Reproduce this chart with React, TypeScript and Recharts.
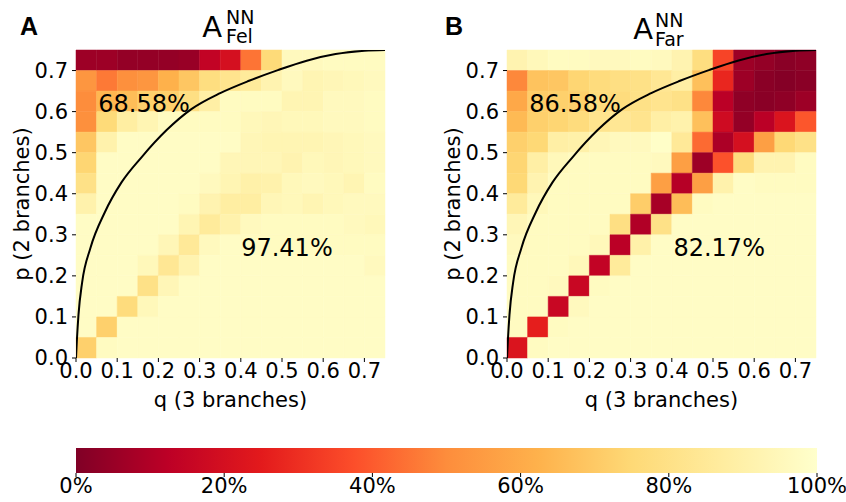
import { ComposedChart, XAxis, YAxis, Line, ReferenceArea, ReferenceDot } from 'recharts'

// cell edges on both axes (15 bins of 0.05)
const EDGES = [0, 0.05, 0.1, 0.15, 0.2, 0.25, 0.3, 0.35, 0.4, 0.45, 0.5, 0.55, 0.6, 0.65, 0.7, 0.75]
const TICKS = [0, 0.1, 0.2, 0.3, 0.4, 0.5, 0.6, 0.7]
const CB_TICKS = [0, 20, 40, 60, 80, 100]

// accuracy in %, rows listed from top (p = 0.70-0.75) down to p = 0.00-0.05
const FEL_ROWS = [
  [6, 6, 4, 4, 4, 5, 14, 20, 45, 76, 96, 96, 97, 97, 97],
  [53, 46, 51, 53, 62, 69, 78, 82, 86, 92, 96, 93, 94, 95, 96],
  [50, 64, 66, 72, 72, 79, 89, 97, 97, 97, 93, 93, 96, 96, 97],
  [51, 76, 88, 93, 97, 97, 97, 97, 95, 94, 95, 95, 96, 96, 97],
  [69, 91, 98, 98, 98, 98, 98, 98, 94, 93, 93, 93, 94, 95, 96],
  [74, 98, 98, 98, 98, 98, 98, 94, 94, 94, 92, 95, 94, 95, 96],
  [80, 98, 98, 98, 98, 98, 96, 93, 90, 91, 95, 96, 95, 93, 97],
  [91, 98, 98, 98, 98, 97, 92, 88, 88, 94, 95, 93, 95, 96, 96],
  [98, 98, 98, 98, 98, 93, 86, 91, 96, 97, 97, 97, 97, 96, 95],
  [98, 98, 98, 98, 94, 85, 96, 98, 97, 97, 97, 97, 97, 97, 97],
  [98, 98, 98, 95, 84, 92, 98, 98, 98, 98, 98, 98, 98, 98, 96],
  [98, 98, 98, 80, 94, 98, 98, 98, 98, 98, 98, 98, 98, 98, 98],
  [98, 98, 77, 95, 98, 98, 98, 98, 98, 98, 98, 98, 98, 98, 98],
  [98, 72, 98, 98, 98, 98, 98, 98, 98, 98, 98, 98, 98, 98, 98],
  [72, 97, 98, 98, 98, 98, 98, 98, 98, 98, 98, 98, 98, 98, 98],
]

const FAR_ROWS = [
  [92, 95, 97, 97, 96, 96, 97, 96, 92, 78, 35, 6, 4, 2, 3],
  [49, 68, 69, 74, 77, 79, 80, 84, 89, 67, 28, 6, 2, 1, 2],
  [59, 71, 72, 72, 77, 77, 80, 82, 80, 49, 12, 3, 2, 3, 6],
  [65, 72, 74, 77, 82, 84, 82, 89, 91, 67, 18, 4, 12, 22, 39],
  [72, 75, 89, 90, 94, 96, 96, 99, 85, 43, 9, 20, 56, 75, 80],
  [74, 89, 95, 97, 97, 97, 97, 96, 56, 6, 38, 77, 92, 92, 97],
  [75, 92, 97, 97, 97, 97, 97, 56, 11, 56, 91, 98, 97, 97, 97],
  [86, 95, 97, 97, 97, 97, 71, 8, 66, 97, 98, 98, 98, 98, 98],
  [94, 97, 97, 97, 97, 79, 10, 80, 98, 98, 98, 98, 98, 98, 98],
  [96, 97, 97, 97, 95, 12, 90, 98, 98, 98, 98, 98, 98, 98, 98],
  [97, 97, 97, 95, 14, 86, 98, 98, 98, 98, 98, 98, 98, 98, 98],
  [97, 97, 96, 16, 97, 98, 98, 98, 98, 98, 98, 98, 98, 98, 98],
  [97, 97, 16, 96, 98, 98, 98, 98, 98, 98, 98, 98, 98, 98, 98],
  [97, 26, 97, 98, 98, 98, 98, 98, 98, 98, 98, 98, 98, 98, 98],
  [22, 97, 98, 98, 98, 98, 98, 98, 98, 98, 98, 98, 98, 98, 98],
]

// boundary curve
const CURVE_Q = [0, 0.002, 0.006, 0.015, 0.035, 0.07, 0.11, 0.16, 0.22, 0.28, 0.35, 0.42, 0.49, 0.56, 0.63, 0.7, 0.75]
const CURVE_P = [0, 0.04, 0.105, 0.185, 0.268, 0.355, 0.427, 0.49, 0.555, 0.606, 0.645, 0.675, 0.701, 0.724, 0.74, 0.748, 0.75]

const FEL_LABELS = [
  { q: 0.165, p: 0.62, text: '68.58%' },
  { q: 0.512, p: 0.268, text: '97.41%' },
]
const FAR_LABELS = [
  { q: 0.165, p: 0.62, text: '86.58%' },
  { q: 0.515, p: 0.268, text: '82.17%' },
]

// YlOrRd reversed
const STOPS = ['#800026', '#bd0026', '#e31a1c', '#fc4e2a', '#fd8d3c', '#feb24c', '#fed976', '#ffeda0', '#ffffcc']

function hex(c: string) {
  return [1, 3, 5].map((i) => parseInt(c.slice(i, i + 2), 16))
}

function cmap(v: number): string {
  const t = Math.max(0, Math.min(1, v / 100)) * (STOPS.length - 1)
  const i = Math.min(STOPS.length - 2, Math.floor(t))
  const f = t - i
  const a = hex(STOPS[i])
  const b = hex(STOPS[i + 1])
  const m = a.map((x, k) => Math.round(x + (b[k] - x) * f))
  return `rgb(${m[0]},${m[1]},${m[2]})`
}

const curve = CURVE_Q.map((q, i) => ({ q, p: CURVE_P[i] }))
const fmt = (v: number) => v.toFixed(1)
const tickStyle = { fontSize: 21, fill: '#000' }

interface HeatProps {
  rows: number[][]
  labels: { q: number, p: number, text: string }[]
  left: number
}

function Heatmap({ rows, labels, left }: HeatProps) {
  const n = rows.length
  return (
    <div style={{ position: 'absolute', left, top: 0 }}>
      <ComposedChart width={400} height={420} data={curve} margin={{ top: 50, right: 15, bottom: 0, left: 0 }}>
        <XAxis
          type="number"
          dataKey="q"
          domain={[0, 0.75]}
          ticks={TICKS}
          interval={0}
          tickFormatter={fmt}
          tick={tickStyle}
          tickLine={{ stroke: '#000' }}
          tickSize={4}
          tickMargin={1}
          axisLine={false}
          height={62}
          allowDataOverflow
          label={{ value: 'q (3 branches)', position: 'insideBottom', offset: 13, fontSize: 21, fill: '#000' }}
        />
        <YAxis
          type="number"
          dataKey="p"
          domain={[0, 0.75]}
          ticks={TICKS}
          interval={0}
          tickFormatter={fmt}
          tick={tickStyle}
          tickLine={{ stroke: '#000' }}
          tickSize={4}
          tickMargin={4}
          axisLine={false}
          width={76}
          allowDataOverflow
          label={{ value: 'p (2 branches)', angle: -90, position: 'insideLeft', offset: 22, fontSize: 21, fill: '#000', style: { textAnchor: 'middle' } }}
        />
        {rows.map((row, r) =>
          row.map((v, c) => (
            <ReferenceArea
              key={`${r}-${c}`}
              x1={EDGES[c]}
              x2={EDGES[c + 1]}
              y1={EDGES[n - 1 - r]}
              y2={EDGES[n - r]}
              fill={cmap(v)}
              fillOpacity={1}
              stroke={cmap(v)}
              strokeWidth={0.5}
            />
          ))
        )}
        <Line
          dataKey="p"
          type="monotone"
          stroke="#000"
          strokeWidth={2}
          dot={false}
          activeDot={false}
          isAnimationActive={false}
        />
        {labels.map((l) => (
          <ReferenceDot
            key={l.text}
            x={l.q}
            y={l.p}
            r={0}
            stroke="none"
            label={{ value: l.text, position: 'center', fontSize: 24, fill: '#000' }}
          />
        ))}
      </ComposedChart>
    </div>
  )
}

function Colorbar() {
  return (
    <div style={{ position: 'absolute', left: 0, top: 448 }}>
      <ComposedChart width={846} height={54} data={[{ x: 0, y: 0 }, { x: 100, y: 1 }]} margin={{ top: 0, right: 29, bottom: 0, left: 76 }}>
        <defs>
          <linearGradient id="cbgrad" x1="0" y1="0" x2="1" y2="0">
            {STOPS.map((c, i) => (
              <stop key={c} offset={i / (STOPS.length - 1)} stopColor={c} />
            ))}
          </linearGradient>
        </defs>
        <XAxis
          type="number"
          dataKey="x"
          domain={[0, 100]}
          ticks={CB_TICKS}
          interval={0}
          tickFormatter={(v: number) => `${v}%`}
          tick={{ fontSize: 21, fill: '#000' }}
          tickLine={{ stroke: '#000' }}
          tickSize={4}
          tickMargin={1}
          axisLine={false}
          height={29}
        />
        <YAxis type="number" dataKey="y" domain={[0, 1]} hide />
        <ReferenceArea x1={0} x2={100} y1={0} y2={1} fill="url(#cbgrad)" fillOpacity={1} />
      </ComposedChart>
    </div>
  )
}

export default function App() {
  return (
    <div style={{ position: 'absolute', left: 0, top: 0, width: 846, height: 502, background: '#fff', fontFamily: '"DejaVu Sans", sans-serif' }}>
      <Heatmap rows={FEL_ROWS} labels={FEL_LABELS} left={0} />
      <Heatmap rows={FAR_ROWS} labels={FAR_LABELS} left={431} />
      <Colorbar />
      <svg width={846} height={60} style={{ position: 'absolute', left: 0, top: 0, pointerEvents: 'none' }}>
        <text x={29} y={35} fontSize={25} fontWeight="bold" textAnchor="middle" fontFamily="Liberation Sans">A</text>
        <text x={222} y={37} fontSize={29} textAnchor="end">A</text>
        <text x={226} y={24} fontSize={19}>NN</text>
        <text x={226} y={43} fontSize={19}>Fel</text>
        <text x={454} y={35} fontSize={25} fontWeight="bold" textAnchor="middle" fontFamily="Liberation Sans">B</text>
        <text x={653} y={39} fontSize={29} textAnchor="end">A</text>
        <text x={655} y={27} fontSize={19}>NN</text>
        <text x={655} y={46} fontSize={19}>Far</text>
      </svg>
    </div>
  )
}
